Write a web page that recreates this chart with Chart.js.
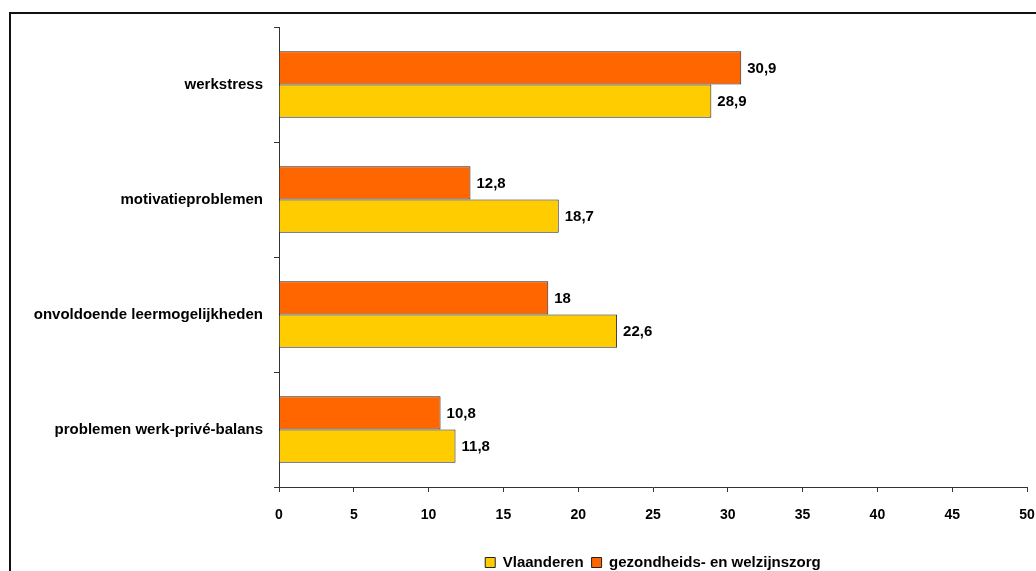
<!DOCTYPE html>
<html>
<head>
<meta charset="utf-8">
<script src="https://cdn.jsdelivr.net/npm/chart.js@4/dist/chart.umd.min.js"></script>
<style>
  body { margin: 0; background: #fff; overflow: hidden; }
  #frame { position: absolute; left: 9px; top: 12px; width: 1100px; height: 700px; border: 2px solid #111; }
  #wrap { position: absolute; left: 0; top: 0; width: 1036px; height: 571px; }
</style>
</head>
<body>
<div id="frame"></div>
<div id="wrap"><canvas id="bar_chart" width="1036" height="571"></canvas></div>
<script>
const categories = ['werkstress', 'motivatieproblemen', 'onvoldoende leermogelijkheden', 'problemen werk-privé-balans'];
const zorgValues = [30.9, 12.8, 18, 10.8];
const vlaanderenValues = [28.9, 18.7, 22.6, 11.8];
const xTicks = [0, 5, 10, 15, 20, 25, 30, 35, 40, 45, 50];

const font = "'Liberation Sans', Arial, sans-serif";

// value labels right of each bar
const valueLabels = {
    id: 'valueLabels',
    afterDatasetsDraw(chart) {
        const ctx = chart.ctx;
        ctx.save();
        ctx.font = 'bold 15px ' + font;
        ctx.fillStyle = '#000';
        ctx.textBaseline = 'middle';
        ctx.textAlign = 'left';
        chart.data.datasets.forEach((ds, i) => {
            chart.getDatasetMeta(i).data.forEach((bar, j) => {
                ctx.fillText(String(ds.data[j]).replace('.', ','), bar.x + 6, bar.y + 1);
            });
        });
        ctx.restore();
    }
};

new Chart(
    document.getElementById('bar_chart'),
    {
        type: 'bar',
        data: {
            labels: categories,
            datasets: [
                {
                    label: 'gezondheids- en welzijnszorg',
                    data: zorgValues,
                    backgroundColor: '#FF6600',
                    borderColor: '#222',
                    borderWidth: 1,
                    categoryPercentage: 0.58,
                    barPercentage: 1
                },
                {
                    label: 'Vlaanderen',
                    data: vlaanderenValues,
                    backgroundColor: '#FFCC00',
                    borderColor: '#222',
                    borderWidth: 1,
                    categoryPercentage: 0.58,
                    barPercentage: 1
                }
            ]
        },
        options: {
            indexAxis: 'y',
            responsive: false,
            animation: false,
            layout: { padding: { top: 27, right: 9, left: 0, bottom: -9 } },
            scales: {
                x: {
                    min: 0,
                    max: 50,
                    afterBuildTicks: axis => { axis.ticks = xTicks.map(v => ({ value: v })); },
                    afterFit: axis => { axis.height = 60; axis.paddingRight = 0; axis.paddingLeft = 0; },
                    border: { color: '#333', width: 1 },
                    grid: { drawOnChartArea: false, color: '#333', tickLength: 5 },
                    ticks: { color: '#000', padding: 15, font: { family: font, size: 14, weight: 'bold' } }
                },
                y: {
                    afterFit: axis => { axis.width = 279; },
                    border: { color: '#333', width: 1 },
                    grid: { drawOnChartArea: false, color: '#333', tickLength: 5, offset: true },
                    ticks: { color: '#000', padding: 11, font: { family: font, size: 15, weight: 'bold' } }
                }
            },
            plugins: {
                legend: {
                    position: 'bottom',
                    fullSize: false,
                    reverse: true,
                    labels: {
                        color: '#000',
                        boxWidth: 10,
                        boxHeight: 10,
                        padding: 8,
                        font: { family: font, size: 15, weight: 'bold' }
                    }
                },
                tooltip: { enabled: false }
            }
        },
        plugins: [valueLabels]
    }
);
</script>
</body>
</html>
